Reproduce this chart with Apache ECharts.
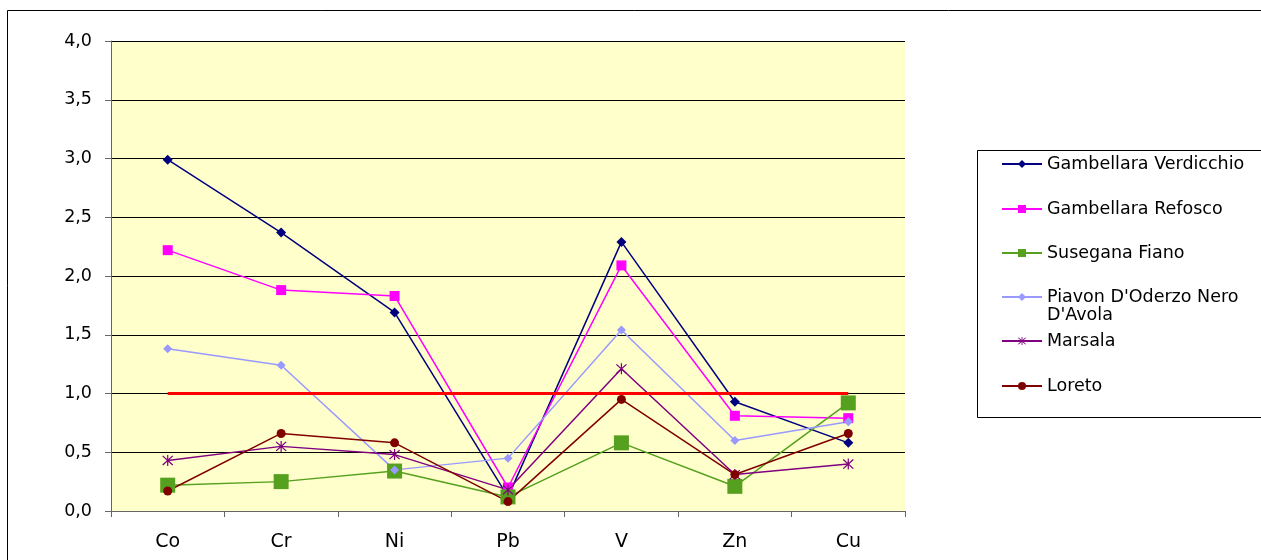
<!DOCTYPE html>
<html>
<head>
<meta charset="utf-8">
<script src="https://cdn.jsdelivr.net/npm/echarts@6/dist/echarts.min.js"></script>
<style>
  html, body { margin: 0; padding: 0; background: #fff; }
  #chart { width: 1261px; height: 560px; }
</style>
</head>
<body>
<div id="chart"></div>
<script>
// categories (x axis)
const elements = ["Co", "Cr", "Ni", "Pb", "V", "Zn", "Cu"];

// series values
const verdicchio = [2.99, 2.37, 1.69, 0.12, 2.29, 0.93, 0.58];
const refosco = [2.22, 1.88, 1.83, 0.20, 2.09, 0.81, 0.79];
const fiano = [0.22, 0.25, 0.34, 0.12, 0.58, 0.21, 0.92];
const piavon = [1.38, 1.24, 0.35, 0.45, 1.54, 0.60, 0.76];
const marsala = [0.43, 0.55, 0.48, 0.18, 1.21, 0.31, 0.40];
const loreto = [0.17, 0.66, 0.58, 0.08, 0.95, 0.31, 0.66];
const limit = [1, 1, 1, 1, 1, 1, 1];

const names = [
  "Gambellara Verdicchio",
  "Gambellara Refosco",
  "Susegana Fiano",
  "Piavon D'Oderzo Nero\nD'Avola",
  "Marsala",
  "Loreto",
];

// asterisk marker
const star = "path://M9,0L11,0L11,20L9,20Z M1,2.5L2.5,1L19,17.5L17.5,19Z M17.5,1L19,2.5L2.5,19L1,17.5Z";

function line(name, data, color, symbol, size, width) {
  return {
    name: name,
    type: "line",
    data: data,
    symbol: symbol,
    symbolSize: size,
    showSymbol: true,
    animation: false,
    itemStyle: { color: color },
    lineStyle: { color: color, width: width },
  };
}

// one legend per entry so each row sits where the original has it
const legendRows = [164, 209, 253, 297, 341, 386];
const legends = names.map((n, i) => {
  const multi = n.indexOf("\n") >= 0;
  return {
    data: [n],
    orient: "vertical",
    left: 1001,
    top: multi ? legendRows[i] - 27 : legendRows[i] - 9,
    padding: 0,
    itemWidth: 40,
    itemHeight: 10,
    selectedMode: false,
    // empty first line keeps the marker level with the first text line
    formatter: multi ? (s) => "\n" + s : "{name}",
    textStyle: {
      fontFamily: "DejaVu Sans",
      fontSize: 17.5,
      color: "#000",
      lineHeight: 18,
    },
  };
});

const chart = echarts.init(document.getElementById("chart"));
chart.setOption({
  animation: false,
  backgroundColor: "#fff",
  grid: {
    left: 111,
    right: 356,
    top: 41,
    bottom: 49,
    show: true,
    backgroundColor: "#FFFFCC",
    borderWidth: 0,
  },
  legend: legends,
  xAxis: {
    type: "category",
    data: elements,
    boundaryGap: true,
    axisLine: { lineStyle: { color: "#666", width: 1 } },
    axisTick: { show: true, inside: false, length: 6, lineStyle: { color: "#666" } },
    axisLabel: {
      color: "#000",
      fontFamily: "DejaVu Sans",
      fontSize: 19,
      margin: 22,
    },
  },
  yAxis: {
    type: "value",
    min: 0,
    max: 4,
    interval: 0.5,
    axisLine: { show: true, lineStyle: { color: "#666", width: 1 } },
    axisTick: { show: true, length: 6, lineStyle: { color: "#666" } },
    splitLine: { show: true, lineStyle: { color: "#000", width: 1 } },
    axisLabel: {
      color: "#000",
      fontFamily: "DejaVu Sans",
      fontSize: 17.5,
      margin: 19,
      formatter: (v) => v.toFixed(1).replace(".", ","),
    },
  },
  series: [
    line(names[0], verdicchio, "#000080", "diamond", 10, 1.5),
    line(names[1], refosco, "#FF00FF", "rect", 10, 1.5),
    line(names[2], fiano, "#55A01E", "rect", 15, 1.5),
    line(names[3], piavon, "#9999FF", "diamond", 9, 1.5),
    line(names[4], marsala, "#800080", star, 11, 1.5),
    line(names[5], loreto, "#800000", "circle", 9, 1.5),
    {
      name: "limit",
      type: "line",
      data: limit,
      symbol: "none",
      animation: false,
      lineStyle: { color: "#FF0000", width: 3 },
      itemStyle: { color: "#FF0000" },
    },
  ],
  graphic: [
    {
      type: "rect",
      silent: true,
      shape: { x: 7.5, y: 10.5, width: 1300, height: 600 },
      style: { fill: "none", stroke: "#000", lineWidth: 1 },
    },
    {
      type: "rect",
      silent: true,
      shape: { x: 977.5, y: 150.5, width: 400, height: 267 },
      style: { fill: "none", stroke: "#000", lineWidth: 1 },
    },
  ],
});
</script>
</body>
</html>
